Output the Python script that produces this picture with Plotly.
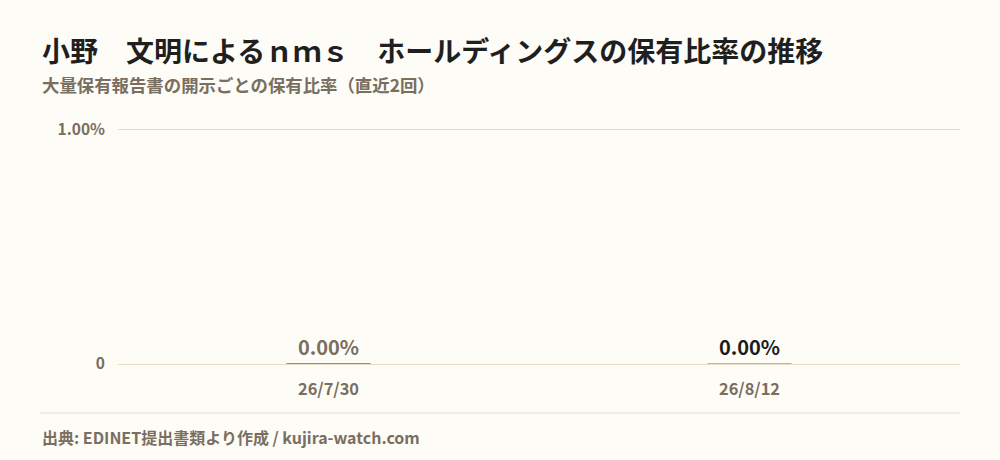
import plotly.graph_objects as go

# 開示日ごとの保有比率（直近2回）
dates = ["26/7/30", "26/8/12"]
ratios = [0.0, 0.0]
bar_colors = ["#8c8f9a", "#d6b27c"]
label_colors = ["#7a6e60", "#1c1c1c"]

title = "小野　文明によるｎｍｓ　ホールディングスの保有比率の推移"
subtitle = "大量保有報告書の開示ごとの保有比率（直近2回）"
source = "出典: EDINET提出書類より作成 / kujira-watch.com"

FONT = "Noto Sans CJK JP"
BG = "#fdfcf7"
GRID = "#e8dcc4"
MUTED = "#7a6e60"

W, H = 1000, 460
L, R, T, B = 118, 40, 125, 96
pw, ph = W - L - R, H - T - B


def px_x(x):
    return (x - L) / pw


def px_y(y):
    return (H - B - y) / ph


fig = go.Figure(
    go.Bar(
        x=dates,
        y=ratios,
        width=0.2,
        marker=dict(color=bar_colors, line=dict(color=bar_colors, width=2)),
        text=[f"{v:.2f}%" for v in ratios],
        textposition="outside",
        textfont=dict(family=FONT, size=20, weight=600, color=label_colors),
        cliponaxis=False,
        hoverinfo="skip",
    )
)

anns = [
    dict(text=f"<b>{title}</b>", x=px_x(40), y=px_y(50), font=dict(size=28, color="#1f1f1f")),
    dict(text=f"<b>{subtitle}</b>", x=px_x(40), y=px_y(84), font=dict(size=17.4, color=MUTED)),
    dict(text=f"<b>{source}</b>", x=px_x(40), y=px_y(437), font=dict(size=16, color=MUTED)),
]

fig.update_layout(
    width=W,
    height=H,
    paper_bgcolor=BG,
    plot_bgcolor=BG,
    margin=dict(l=L, r=R, t=T, b=B),
    showlegend=False,
    font=dict(family=FONT, color=MUTED),
    annotations=[
        dict(a, xref="paper", yref="paper", xanchor="left", yanchor="middle", showarrow=False)
        for a in anns
    ],
)

fig.add_shape(type="line", xref="paper", yref="paper",
              x0=px_x(40), x1=px_x(960), y0=px_y(413), y1=px_y(413),
              line=dict(color=GRID, width=1))

fig.update_xaxes(
    showgrid=False, showline=False, ticks="",
    tickvals=dates, ticktext=[f"<b>{d}</b>" for d in dates],
    tickfont=dict(family=FONT, size=16.4, color=MUTED),
    ticklabelstandoff=14,
)
fig.update_yaxes(
    range=[0, 1.02],
    tickvals=[0, 1],
    ticktext=["<b>0</b>", "<b>1.00%</b>"],
    tickfont=dict(family=FONT, size=15.5, color=MUTED),
    gridcolor=GRID, gridwidth=1,
    zeroline=True, zerolinecolor=GRID, zerolinewidth=1,
    ticklabelstandoff=12,
)

fig.write_html(
    "out.html",
    config={"displayModeBar": False},
    post_script="document.body.style.margin='0';",
)
